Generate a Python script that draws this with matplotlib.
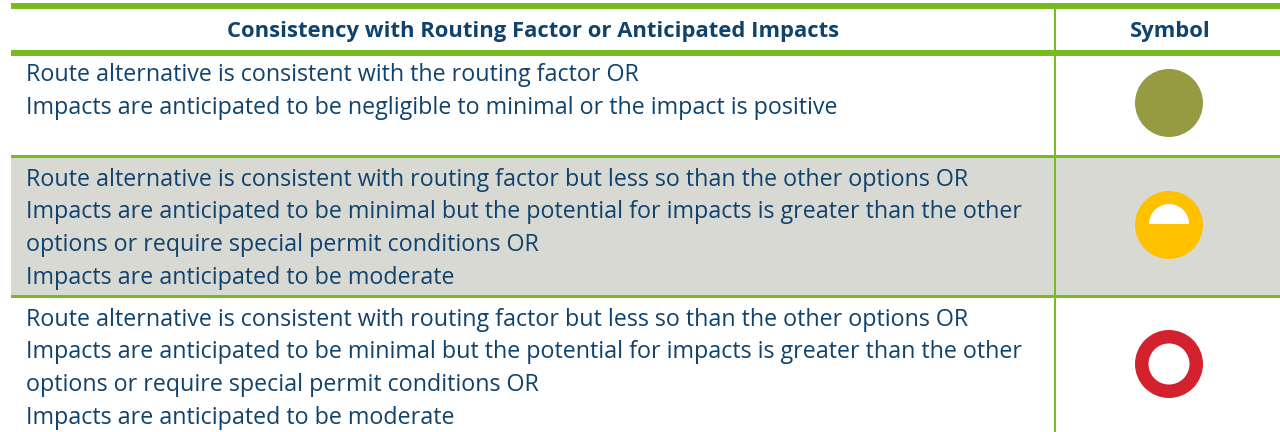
import matplotlib
matplotlib.use("Agg")
import matplotlib.pyplot as plt
from matplotlib.patches import Rectangle, Circle, Wedge

headers = ["Consistency with Routing Factor or Anticipated Impacts", "Symbol"]
row_texts = [
    ["Route alternative is consistent with the routing factor OR",
     "Impacts are anticipated to be negligible to minimal or the impact is positive"],
    ["Route alternative is consistent with routing factor but less so than the other options OR",
     "Impacts are anticipated to be minimal but the potential for impacts is greater than the other",
     "options or require special permit conditions OR",
     "Impacts are anticipated to be moderate"],
    ["Route alternative is consistent with routing factor but less so than the other options OR",
     "Impacts are anticipated to be minimal but the potential for impacts is greater than the other",
     "options or require special permit conditions OR",
     "Impacts are anticipated to be moderate"],
]
symbols = ["full", "half", "ring"]
row_bg = ["white", "#D9D9D4", "white"]

W, H = 1280, 432
GREEN = "#77BC1F"
TEXT = "#0F426D"
FONT = ["Open Sans", "DejaVu Sans"]

fig = plt.figure(figsize=(W / 100, H / 100), dpi=100)
ax = fig.add_axes([0, 0, 1, 1])
ax.set_xlim(0, W)
ax.set_ylim(H, 0)
ax.axis("off")

left, right, divx = 11, 1280, 1055
row_bounds = [(56, 155), (157, 295), (297, 432)]

for (y0, y1), bg in zip(row_bounds, row_bg):
    ax.add_patch(Rectangle((left, y0), right - left, y1 - y0, color=bg, lw=0))

# horizontal rules
ax.add_patch(Rectangle((left, 3), right - left, 6, color=GREEN, lw=0))
ax.add_patch(Rectangle((left, 50), right - left, 6, color=GREEN, lw=0))
ax.add_patch(Rectangle((left, 155), right - left, 2.5, color=GREEN, lw=0))
ax.add_patch(Rectangle((left, 295), right - left, 2.5, color=GREEN, lw=0))
# vertical divider
ax.add_patch(Rectangle((divx - 1, 9), 2.2, H - 9, color=GREEN, lw=0))

fig.canvas.draw()
renderer = fig.canvas.get_renderer()

def fit_size(s, target_w, weight="normal", base=16):
    t = ax.text(0, 0, s, fontsize=base, family=FONT, fontweight=weight)
    w = t.get_window_extent(renderer).width
    t.remove()
    return base * target_w / w

hdr_size = fit_size(headers[0], 611, weight="bold")
body_size = fit_size(row_texts[1][1], 998)

ax.text((left + divx) / 2, 37.5, headers[0], ha="center", va="baseline",
        fontsize=hdr_size, fontweight="bold", color=TEXT, family=FONT)
ax.text((divx + right) / 2 + 3, 37.5, headers[1], ha="center", va="baseline",
        fontsize=hdr_size, fontweight="bold", color=TEXT, family=FONT)

line_y = [[81, 114], [186, 218.5, 251, 284], [326, 358.5, 391, 424]]
for lines, ys in zip(row_texts, line_y):
    for s, y in zip(lines, ys):
        ax.text(26, y, s, ha="left", va="baseline", fontsize=body_size,
                color=TEXT, family=FONT)

cx = 1169
centers = [103, 225, 364]
R = 34
for kind, cy in zip(symbols, centers):
    if kind == "full":
        ax.add_patch(Circle((cx, cy), R, color="#969A41", lw=0))
    elif kind == "half":
        ax.add_patch(Circle((cx, cy), R, color="#FFC000", lw=0))
        ax.add_patch(Wedge((cx, cy - 1), 20, 180, 360, color="white", lw=0))
    else:
        ax.add_patch(Circle((cx, cy), R, color="#D3222D", lw=0))
        ax.add_patch(Circle((cx, cy), 20.5, color="white", lw=0))

fig.savefig("out.png", dpi=100)
